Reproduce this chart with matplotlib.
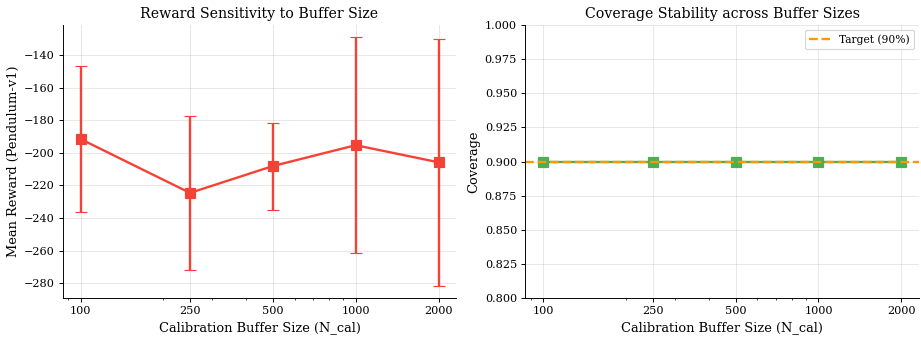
import numpy as np
import matplotlib
matplotlib.use('Agg')
import matplotlib.pyplot as plt

plt.rcParams['font.family'] = 'DejaVu Serif'

buffer_sizes = [100, 250, 500, 1000, 2000]
tick_labels = ['100', '250', '500', '1000', '2000']
reward_mean = [-191.5, -224.6, -208.1, -195.3, -205.8]
reward_std = [44.6, 47.4, 26.7, 66.2, 75.8]
coverage = [0.90, 0.90, 0.90, 0.90, 0.90]
target = 0.90

# 85 dpi so the whole thing looks like a scaled-down bigger figure
fig, (ax1, ax2) = plt.subplots(1, 2, figsize=(921 / 85, 338 / 85), dpi=85)

ax1.errorbar(buffer_sizes, reward_mean, yerr=reward_std, marker='s', markersize=8,
             color='#F44336', linewidth=2, capsize=5, elinewidth=2, capthick=1)
ax1.set_xscale('log')
ax1.set_xticks(buffer_sizes)
ax1.set_xticklabels(tick_labels)
ax1.set_xlabel('Calibration Buffer Size (N_cal)', fontsize=11)
ax1.set_ylabel('Mean Reward (Pendulum-v1)', fontsize=11, labelpad=3)
ax1.set_title('Reward Sensitivity to Buffer Size', fontsize=12)
ax1.grid(True, alpha=0.3)

ax2.plot(buffer_sizes, coverage, marker='s', markersize=8, color='#4CAF50', linewidth=2)
ax2.axhline(target, color='#FF9800', linestyle='--', linewidth=2, label='Target (90%)')
ax2.set_xscale('log')
ax2.set_xticks(buffer_sizes)
ax2.set_xticklabels(tick_labels)
ax2.set_ylim(0.8, 1.0)
ax2.set_xlabel('Calibration Buffer Size (N_cal)', fontsize=11)
ax2.set_ylabel('Coverage', fontsize=11)
ax2.set_title('Coverage Stability across Buffer Sizes', fontsize=12)
ax2.legend(fontsize=9)
ax2.grid(True, alpha=0.3)

for ax in (ax1, ax2):
    ax.spines['top'].set_visible(False)
    ax.spines['right'].set_visible(False)
    ax.tick_params(labelsize=9.5)

plt.subplots_adjust(left=0.068, right=0.998, bottom=0.118, top=0.926, wspace=0.175)
plt.savefig('out.png', dpi=85)
